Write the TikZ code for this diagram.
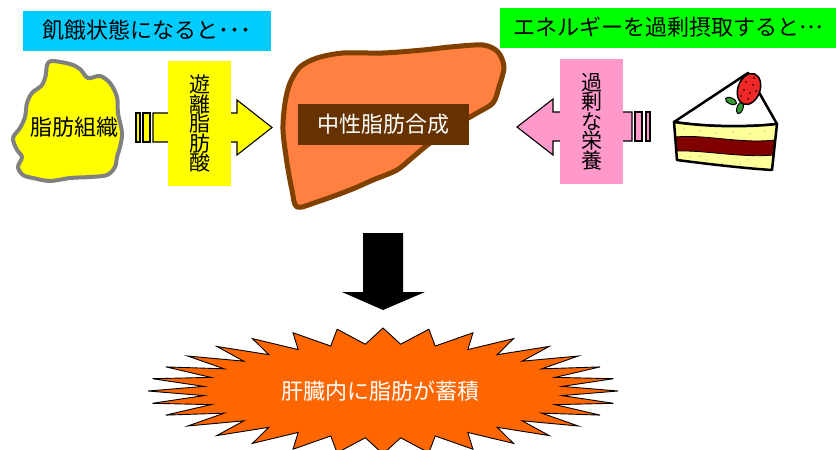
\documentclass[tikz,border=0pt]{standalone}
\usepackage{fontspec}
\setmainfont{Noto Sans CJK JP}
\definecolor{skyblue}{HTML}{00CCFF}
\definecolor{brightgreen}{HTML}{00FF00}
\definecolor{fatyellow}{HTML}{FFFF00}
\definecolor{fatgray}{HTML}{808080}
\definecolor{nutpink}{HTML}{FF99CC}
\definecolor{liverfill}{HTML}{FF8040}
\definecolor{liverline}{HTML}{804000}
\definecolor{tagbrown}{HTML}{663300}
\definecolor{burstorange}{HTML}{FF6600}
\definecolor{sponge}{HTML}{FFFF99}
\definecolor{jam}{HTML}{800000}
\definecolor{berry}{HTML}{F02828}
\definecolor{leafgreen}{HTML}{339933}
\newcommand\stackfont{\fontsize{21}{19.5}\selectfont\lineskiplimit=-100pt\relax}
\begin{document}
\begin{tikzpicture}[x=1pt,y=-1pt,
  every node/.style={inner sep=0pt,outer sep=0pt},
  bigtext/.style={font=\fontsize{22}{24}\selectfont},
  banner/.style={bigtext,minimum height=40pt},
  vlabel/.style={font=\stackfont,
    align=center,minimum width=63pt,minimum height=125pt},
  blockarrow/.style={draw=black,line width=1.1pt,line join=miter},
  cakeline/.style={draw=black,line width=2.5pt,line join=round},
]
\fill[white] (0,0) rectangle (836,450);
\useasboundingbox (0,0) rectangle (836,450);

% headline banners
\node[banner,fill=skyblue,minimum width=248pt] (hunger) at (147,30.5) {飢餓状態になると･･･};
\node[banner,fill=brightgreen,minimum width=336pt] (excess) at (668,27.5)
  {エネルギーを過剰摂取すると\raisebox{0.32em}{…}};

% adipose tissue blob
\filldraw[fill=fatyellow,draw=fatgray,line width=4pt,line join=round]
  plot[smooth cycle,tension=0.55] coordinates {
  (47,65) (52,61) (70,64) (80,69) (88,78) (100,76) (110,83) (117,97)
  (118,113) (122,133) (120,147) (117,157) (115,167) (107,175) (90,177)
  (70,178) (50,181) (33,178) (23,175) (18,167) (22,157) (17,150)
  (13,138) (20,128) (25,117) (27,103) (32,93) (42,85) (46,74)};
\node[bigtext] (tissue) at (74.5,127.5) {脂肪組織};

% striped arrow towards the liver
\filldraw[blockarrow,fill=fatyellow] (136,113) rectangle (140,142);
\filldraw[blockarrow,fill=fatyellow] (143,113) rectangle (150,142);
\filldraw[blockarrow,fill=fatyellow]
  (153,113) -- (237,113) -- (237,100) -- (272,127.5) -- (237,155)
  -- (237,142) -- (153,142) -- cycle;
\node[vlabel,fill=fatyellow] (ffa) at (199.5,123.5) {遊\\離\\脂\\肪\\酸};

% striped arrow from the cake
\filldraw[blockarrow,fill=nutpink] (646,112) rectangle (650,141);
\filldraw[blockarrow,fill=nutpink] (635,112) rectangle (642,141);
\filldraw[blockarrow,fill=nutpink]
  (632,112) -- (553,112) -- (553,99) -- (517,127) -- (553,155)
  -- (553,141) -- (632,141) -- cycle;
\node[vlabel,fill=nutpink] (nutr) at (591.5,121.5) {過\\剰\\な\\栄\\養};

% liver
\filldraw[fill=liverfill,draw=liverline,line width=5pt,line join=round]
  plot[smooth cycle,tension=0.5] coordinates {
  (300,67) (317,58) (343,53) (383,53) (423,50) (450,47) (483,45) (498,52)
  (504,67) (499,87) (493,103) (477,113) (453,127) (430,143) (413,157)
  (397,170) (373,180) (350,190) (317,202) (297,207) (292,190) (287,163)
  (283,130) (285,103) (290,83)};
\node[bigtext,fill=tagbrown,text=white,minimum width=171pt,minimum height=41pt]
  (synth) at (383.5,124.5) {中性脂肪合成};

% cake slice
\filldraw[cakeline,fill=white] (674,122) -- (748,73) -- (777,124)
  .. controls (740,128) and (700,126) .. (674,122) -- cycle;
\fill[sponge] (674,122) .. controls (700,126) and (740,128) .. (777,124)
  -- (772,170) .. controls (740,168) and (700,163) .. (677,160) -- cycle;
\foreach \p in {(684,129),(700,131),(716,133),(733,132),(750,134),(765,131),
  (690,157),(706,160),(722,163),(740,164),(756,166),(700,156),(748,160)}
  \fill[black!45] \p circle (0.6);
\filldraw[fill=jam,draw=black,line width=0.8pt]
  (675,137) .. controls (705,134) and (740,144) .. (775,140)
  -- (774,155) .. controls (740,158) and (705,150) .. (676,151) -- cycle;
\draw[cakeline] (674,122) .. controls (700,126) and (740,128) .. (777,124)
  -- (772,170) .. controls (740,168) and (700,163) .. (677,160) -- cycle;
% strawberry on top
\filldraw[fill=leafgreen,draw=black,line width=1pt,rotate around={-25:(731,101)}]
  (731,101) ellipse [x radius=6,y radius=3];
\filldraw[fill=leafgreen,draw=black,line width=1pt,rotate around={-20:(740,108)}]
  (740,108) ellipse [x radius=3,y radius=6];
\filldraw[fill=berry,draw=black,line width=1.5pt,rotate around={-20:(749,89)}]
  (749,89) ellipse [x radius=11,y radius=16];
\foreach \p in {(746,82),(753,85),(744,90),(750,93),(756,91),(748,99),(754,78),(741,96)}
  \fill[black] \p circle (0.8);

% result arrow
\fill[black] (363,233) -- (403,233) -- (403,292) -- (425,292) -- (383,310)
  -- (342,292) -- (363,292) -- cycle;

% starburst with the outcome
\begin{scope}
  \clip (0,0) rectangle (836,450);
  \filldraw[fill=burstorange,draw=black,line width=0.9pt,line join=miter]
    (618,391) \foreach \k in {0,...,31}{
      -- ({383+180*cos(\k*11.25+5.625)},{391-47*sin(\k*11.25+5.625)})
      -- ({383+235*cos((\k+1)*11.25)},{391-63*sin((\k+1)*11.25)}) } -- cycle;
\end{scope}
\node[bigtext,text=white] (store) at (380,391) {肝臓内に脂肪が蓄積};
\end{tikzpicture}
\end{document}
